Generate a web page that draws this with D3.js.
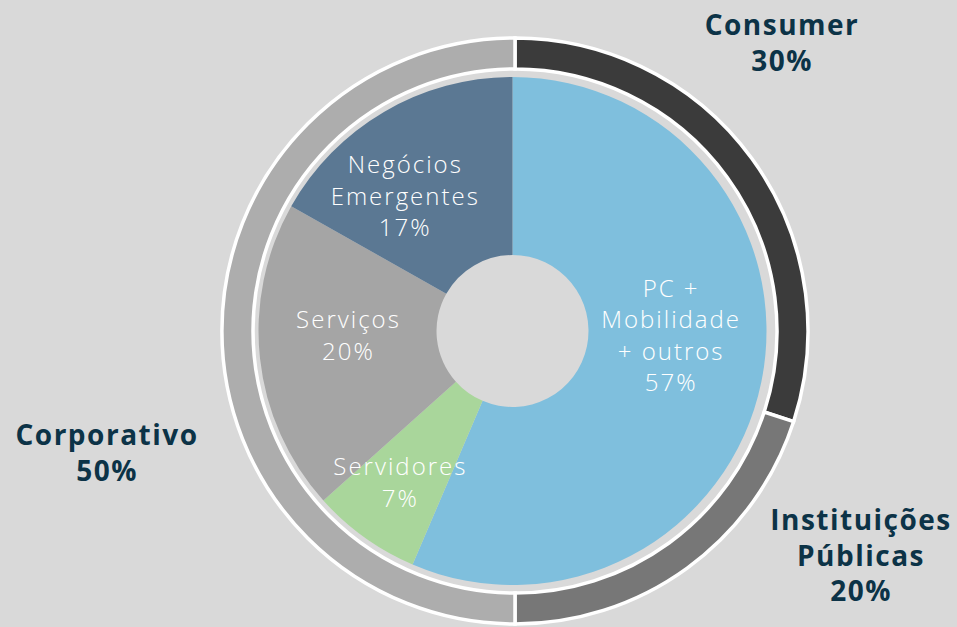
<!DOCTYPE html>
<html>
<head>
<meta charset="utf-8">
<script src="https://cdn.jsdelivr.net/npm/d3@7"></script>
<style>
  html, body { margin: 0; padding: 0; background: #d9d9d9; }
  svg { display: block; }
</style>
</head>
<body>
<svg width="957" height="627"></svg>
<script>
const width = 957;
const height = 627;

// inner donut: business lines
const segments = ["PC + Mobilidade + outros", "Servidores", "Serviços", "Negócios Emergentes"];
const segmentLines = [["PC +", "Mobilidade", "+ outros"], ["Servidores"], ["Serviços"], ["Negócios", "Emergentes"]];
const segmentValues = [57, 7, 20, 17];
const segmentColors = ["#7fbfdd", "#a9d69b", "#a5a5a5", "#5b7893"];

// outer ring: customer types
const customers = ["Consumer", "Instituições Públicas", "Corporativo"];
const customerLines = [["Consumer"], ["Instituições", "Públicas"], ["Corporativo"]];
const customerValues = [30, 20, 50];
const customerColors = ["#3b3b3b", "#777777", "#adadad"];

const svg = d3.select("svg");

// inner pie
const pieCenter = [512.5, 331];
const pie = d3.pie().sort(null).value(d => d);
const innerArc = d3.arc().innerRadius(76).outerRadius(254);
const labelArc = d3.arc().innerRadius(165).outerRadius(165);

const gInner = svg.append("g")
    .attr("transform", `translate(${pieCenter})`);

const innerData = pie(segmentValues);

gInner.selectAll("path")
    .data(innerData)
    .enter().append("path")
    .attr("d", innerArc)
    .attr("fill", (d, i) => segmentColors[i]);

// nudges from the arc centroid (Excel "best fit" placement)
const innerNudge = [[-3, -28], [-16, 18], [0, -13], [-24, 8]];

const lineH = 31.5;
gInner.selectAll("text")
    .data(innerData)
    .enter().append("text")
    .attr("transform", (d, i) => {
        const c = labelArc.centroid(d);
        return `translate(${c[0] + innerNudge[i][0]},${c[1] + innerNudge[i][1]})`;
    })
    .attr("text-anchor", "middle")
    .attr("fill", "#ffffff")
    .style("font-family", "'Open Sans', sans-serif")
    .style("font-weight", 300)
    .style("font-size", "24px")
    .style("letter-spacing", "2px")
    .each(function(d, i) {
        const lines = segmentLines[i].concat([segmentValues[i] + "%"]);
        const t = d3.select(this);
        const top = -(lines.length - 1) * lineH / 2 + 8;
        lines.forEach((l, j) => {
            t.append("tspan")
                .attr("x", 0)
                .attr("y", top + j * lineH)
                .text(l);
        });
    });

// outer ring
const ringCenter = [515, 331];
const ringArc = d3.arc().innerRadius(262).outerRadius(293);

const gRing = svg.append("g")
    .attr("transform", `translate(${ringCenter})`);

gRing.selectAll("path")
    .data(pie(customerValues))
    .enter().append("path")
    .attr("d", ringArc)
    .attr("fill", (d, i) => customerColors[i])
    .attr("stroke", "#ffffff")
    .attr("stroke-width", 3.5);

// outer labels
const customerLabelPos = [[782, 35], [861, 530], [107, 445]];
const outerLineH = 35.5;

customers.forEach((c, i) => {
    const lines = customerLines[i].concat([customerValues[i] + "%"]);
    const t = svg.append("text")
        .attr("text-anchor", "middle")
        .attr("fill", "#0c3347")
        .style("font-family", "'Open Sans', sans-serif")
        .style("font-weight", 700)
        .style("font-size", "28px")
        .style("letter-spacing", "1.5px");
    lines.forEach((l, j) => {
        t.append("tspan")
            .attr("x", customerLabelPos[i][0])
            .attr("y", customerLabelPos[i][1] + j * outerLineH)
            .text(l);
    });
});
</script>
</body>
</html>
